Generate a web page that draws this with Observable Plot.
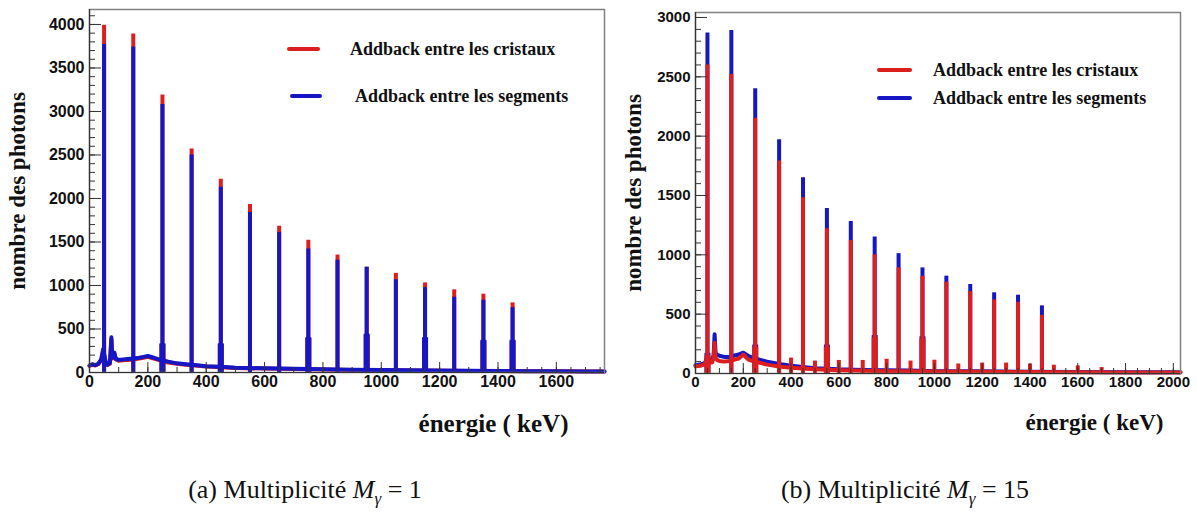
<!DOCTYPE html>
<html><head><meta charset="utf-8">
<script src="https://cdn.jsdelivr.net/npm/d3@7"></script>
<script src="https://cdn.jsdelivr.net/npm/@observablehq/plot@0.6"></script>
<style>
body{margin:0;background:#fff;}
#wrap{position:relative;width:1197px;height:525px;overflow:hidden;background:#fff;}
.panel{position:absolute;top:0;}
.leg{position:absolute;font-family:"Liberation Serif","Times New Roman",serif;font-weight:bold;font-size:18px;color:#111;line-height:1;white-space:nowrap;transform:translateY(-50%);}
.sw{position:absolute;height:4px;border-radius:2px;transform:translateY(-50%);}
.cap{position:absolute;font-family:"Liberation Serif","DejaVu Serif",serif;font-size:26px;color:#111;white-space:nowrap;transform:translate(-50%,-50%);}
</style></head><body><div id="wrap"></div>
<script>
// ---------- data ----------
const RED = "#dc1e1e", BLUE = "#1616c4";
const seriesNames = ["Addback entre les cristaux", "Addback entre les segments"];

// peak energies (keV), both panels
const peakE = [50,150,250,350,450,550,650,750,850,950,1050,1150,1250,1350,1450];

// (a) multiplicity 1
const aRedPeak  = [3990,3890,3190,2570,2220,1930,1680,1520,1350,1210,1140,1030,950,900,800];
const aBluePeak = [3770,3740,3080,2500,2130,1840,1610,1420,1290,1210,1065,975,865,830,745];
const aFootE    = [250,450,750,950,1150,1350,1450];
const aBlueFoot = [330,330,400,440,400,370,370];
const aRedFoot  = [320,320,390,430,390,360,360];
const aBgE      = [0,10,20,30,40,47,55,62,70,75,78,85,90,100,115,130,150,170,185,200,215,230,250,270,300,330,360,400,450,500,600,700,800,900,1000,1100,1200,1300,1400,1500,1600,1700,1765];
const aBlueBg   = [80,95,85,100,150,270,130,90,110,405,170,230,160,145,150,155,160,170,180,190,175,160,140,125,105,95,85,72,65,55,48,42,38,33,30,26,22,20,18,15,14,12,12];
const aRedBg    = [75,90,80,95,140,250,120,85,100,380,160,215,150,135,140,145,150,160,170,180,165,150,130,115,100,90,80,68,60,52,45,40,35,30,28,24,20,18,16,14,13,11,11];

// (b) multiplicity 15
const bRedPeak  = [2600,2520,2150,1790,1480,1220,1120,1000,890,820,770,690,620,600,490];
const bBluePeak = [2870,2890,2400,1970,1650,1390,1280,1150,1010,890,820,750,680,660,570];
const bFootE    = [50,250,550,750,950];
const bRedFoot  = [150,220,220,300,290];
const bBlueFoot = [170,240,240,320,310];
const bSatE     = [400,500,600,700,800,900,1000,1100,1200,1300,1400,1500,1600,1700];
const bRedSat   = [130,105,110,110,120,105,112,80,88,88,80,70,64,50];
const bBgE      = [0,20,40,50,60,70,76,80,84,90,100,120,140,160,180,200,220,240,260,280,300,350,400,450,500,600,700,800,900,1000,1200,1400,1600,1800,2000,2030];
const bBlueBg   = [70,75,90,150,100,110,160,330,170,160,150,140,140,150,160,175,150,130,120,110,100,80,65,55,45,35,30,28,25,20,18,15,12,10,10,10];
const bRedBg    = [60,65,80,130,90,95,140,260,130,115,105,100,105,115,125,160,120,105,95,85,75,58,48,42,36,28,24,20,18,16,14,12,10,8,8,8];

// axis ticks
const aYTicks = [0,500,1000,1500,2000,2500,3000,3500,4000];
const bYTicks = [0,500,1000,1500,2000,2500,3000];
const aXTicks = [0,200,400,600,800,1000,1200,1400,1600];
const bXTicks = [0,200,400,600,800,1000,1200,1400,1600,1800,2000];

const captions = ["(a) Multiplicité ", "(b) Multiplicité "];
const captionM = ["1", "15"];

// ---------- helpers ----------
const pts = (E, V) => E.map((e, i) => ({e, c: V[i]}));

function panel(cfg) {
  const {width, height, mL, mR, mT, mB, xMax, yMax, yTicks, xTicks, layers, tickSize, yLabDx, yLabSize, xLabDx, xLabDy, xLabSize} = cfg;
  const fw = width - mL - mR, fh = height - mT - mB;
  const marks = [];
  for (const L of layers) {
    marks.push(Plot.ruleX(pts(peakE, L.peak), {x: "e", y1: 0, y2: "c", stroke: L.color, strokeWidth: 4}));
    if (L.foot) marks.push(Plot.ruleX(pts(L.footE, L.foot), {x: "e", y1: 0, y2: "c", stroke: L.color, strokeWidth: 6}));
    if (L.sat) marks.push(Plot.ruleX(pts(L.satE, L.sat), {x: "e", y1: 0, y2: "c", stroke: L.color, strokeWidth: 4}));
    marks.push(Plot.lineY(pts(L.bgE, L.bg), {x: "e", y: "c", stroke: L.color, strokeWidth: 4, strokeLinejoin: "round"}));
  }
  const yMinor = d3.range(0, yMax, 100);
  const xMinor = d3.range(0, xMax, 50);
  marks.push(
    Plot.frame({stroke: "#808080", strokeWidth: 1.5}),
    Plot.ruleX([0], {stroke: "#333", strokeWidth: 1.2}),
    Plot.ruleY([0], {stroke: "#333", strokeWidth: 1.2}),
    Plot.tickY(yMinor, {y: d => d, insetRight: fw - 6, stroke: "#333"}),
    Plot.tickY(yTicks, {y: d => d, insetRight: fw - 12, stroke: "#333"}),
    Plot.tickX(xMinor, {x: d => d, insetTop: fh - 5, stroke: "#333"}),
    Plot.tickX(xTicks, {x: d => d, insetTop: fh - 10, stroke: "#333"}),
    Plot.axisY(yTicks, {tickSize: 0, tickPadding: 5, tickFormat: d3.format("d"), label: null, fill: "#111"}),
    Plot.axisX(xTicks, {tickSize: 0, tickPadding: 3, tickFormat: d3.format("d"), label: null, fill: "#111"}),
    Plot.text(["nombre des photons"], {text: d => d, frameAnchor: "left", dx: yLabDx, rotate: -90, fontSize: yLabSize, fontFamily: "Liberation Serif", fontWeight: "bold", fill: "#111", textAnchor: "middle"}),
    Plot.text(["énergie ( keV)"], {text: d => d, frameAnchor: "bottom-right", dx: xLabDx, dy: xLabDy, fontSize: xLabSize, fontFamily: "Liberation Serif", fontWeight: "bold", fill: "#111", textAnchor: "end", lineAnchor: "middle"})
  );
  return Plot.plot({
    width, height, marginLeft: mL, marginRight: mR, marginTop: mT, marginBottom: mB,
    x: {domain: [0, xMax]},
    y: {domain: [0, yMax]},
    style: {fontFamily: "'Liberation Sans', Arial, sans-serif", fontWeight: "bold", fontSize: tickSize + "px", background: "transparent", overflow: "visible"},
    marks
  });
}

const wrap = document.getElementById("wrap");

const left = panel({
  width: 612, height: 445, mL: 89, mR: 8, mT: 9, mB: 73,
  xMax: 1765, yMax: 4172, yTicks: aYTicks, xTicks: aXTicks, tickSize: 16,
  yLabDx: -72, yLabSize: 23, xLabDx: -36, xLabDy: 51, xLabSize: 25,
  layers: [
    {color: RED, peak: aRedPeak, footE: aFootE, foot: aRedFoot, bgE: aBgE, bg: aRedBg},
    {color: BLUE, peak: aBluePeak, footE: aFootE, foot: aBlueFoot, bgE: aBgE, bg: aBlueBg}
  ]
});
left.classList.add("panel"); left.style.left = "0px";
wrap.appendChild(left);

const right = panel({
  width: 585, height: 445, mL: 83, mR: 17, mT: 12, mB: 72,
  xMax: 2030, yMax: 3042, yTicks: bYTicks, xTicks: bXTicks, tickSize: 15,
  yLabDx: -62, yLabSize: 23, xLabDx: -17, xLabDy: 49, xLabSize: 23,
  layers: [
    {color: BLUE, peak: bBluePeak, footE: bFootE, foot: bBlueFoot, bgE: bBgE, bg: bBlueBg},
    {color: RED, peak: bRedPeak, footE: bFootE, foot: bRedFoot, satE: bSatE, sat: bRedSat, bgE: bBgE, bg: bRedBg}
  ]
});
right.classList.add("panel"); right.style.left = "612px";
wrap.appendChild(right);

// legends
function legend(items) {
  for (const it of items) {
    const sw = document.createElement("div");
    sw.className = "sw";
    Object.assign(sw.style, {left: it.lx + "px", top: it.y + "px", width: it.lw + "px", background: it.color});
    wrap.appendChild(sw);
    const t = document.createElement("div");
    t.className = "leg";
    Object.assign(t.style, {left: it.tx + "px", top: it.y + "px"});
    t.textContent = it.text;
    wrap.appendChild(t);
  }
}
legend([
  {color: RED, text: seriesNames[0], lx: 287, lw: 33, tx: 350, y: 49},
  {color: BLUE, text: seriesNames[1], lx: 290, lw: 32, tx: 355, y: 96},
  {color: RED, text: seriesNames[0], lx: 877, lw: 35, tx: 933, y: 70},
  {color: BLUE, text: seriesNames[1], lx: 877, lw: 35, tx: 933, y: 98}
]);

// captions
[305, 905].forEach((cx, i) => {
  const c = document.createElement("div");
  c.className = "cap";
  c.style.left = cx + "px"; c.style.top = "492px";
  c.innerHTML = captions[i] + '<i>M</i><sub style="font-size:17px"><i>γ</i></sub> = ' + captionM[i];
  wrap.appendChild(c);
});
</script>
</body></html>
